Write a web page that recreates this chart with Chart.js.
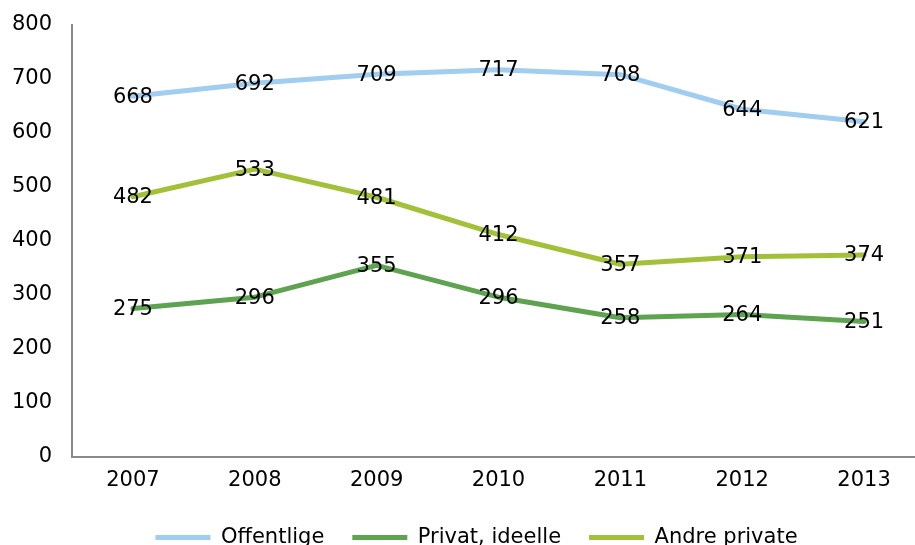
<!DOCTYPE html>
<html lang="no">
<head>
    <meta charset="UTF-8">
    <title>Offentlige og private</title>
    <script src="https://cdn.jsdelivr.net/npm/chart.js"></script>
    <style>
        body { margin: 0; background: #fff; overflow: hidden; }
        .chart-container { width: 925px; height: 558px; position: relative; }
    </style>
</head>
<body>
    <div class="chart-container">
        <canvas id="lineChart" width="925" height="558"></canvas>
    </div>
    <script>
        const years = ['2007', '2008', '2009', '2010', '2011', '2012', '2013'];
        const offentlige = [668, 692, 709, 717, 708, 644, 621];
        const privatIdeelle = [275, 296, 355, 296, 258, 264, 251];
        const andrePrivate = [482, 533, 481, 412, 357, 371, 374];
        const seriesNames = ['Offentlige', 'Privat, ideelle', 'Andre private'];
        const seriesColors = ['#a0cdf0', '#5da350', '#a2c139'];

        const fontFamily = '"DejaVu Sans", Verdana, sans-serif';
        const fontSize = 21;

        // draws the value on top of each point
        const valueLabels = {
            id: 'valueLabels',
            afterDatasetsDraw(chart) {
                const ctx = chart.ctx;
                ctx.save();
                ctx.font = fontSize + 'px ' + fontFamily;
                ctx.fillStyle = '#000';
                ctx.textAlign = 'center';
                ctx.textBaseline = 'middle';
                chart.data.datasets.forEach((ds, i) => {
                    const meta = chart.getDatasetMeta(i);
                    meta.data.forEach((pt, j) => {
                        ctx.fillText(ds.data[j], pt.x, pt.y + 1);
                    });
                });
                ctx.restore();
            }
        };

        // legend in the original sits a bit right of centre
        const legendShift = {
            id: 'legendShift',
            afterLayout(chart) {
                if (chart.legend) {
                    chart.legend.left += 14;
                    chart.legend.right += 14;
                }
            }
        };

        function makeDataset(label, data, color) {
            return {
                label: label,
                data: data,
                borderColor: color,
                backgroundColor: color,
                borderWidth: 5,
                pointRadius: 0,
                tension: 0,
                borderJoinStyle: 'round',
                borderCapStyle: 'round'
            };
        }

        const ctx = document.getElementById('lineChart').getContext('2d');
        new Chart(ctx, {
            type: 'line',
            data: {
                labels: years,
                datasets: [
                    makeDataset(seriesNames[0], offentlige, seriesColors[0]),
                    makeDataset(seriesNames[1], privatIdeelle, seriesColors[1]),
                    makeDataset(seriesNames[2], andrePrivate, seriesColors[2])
                ]
            },
            options: {
                responsive: false,
                animation: false,
                layout: { padding: { top: 25, left: 0, right: 0, bottom: 0 } },
                scales: {
                    x: {
                        offset: true,
                        grid: { display: false, drawTicks: false },
                        border: { display: true, color: '#898989', width: 2 },
                        ticks: { color: '#000', font: { family: fontFamily, size: fontSize }, padding: 11 },
                        afterFit(scale) { scale.height = 42; }
                    },
                    y: {
                        min: 0,
                        max: 800,
                        grid: { display: false, drawTicks: false },
                        border: { display: true, color: '#898989', width: 2 },
                        ticks: { stepSize: 100, color: '#000', font: { family: fontFamily, size: fontSize }, padding: 20 },
                        afterFit(scale) {
                            scale.width = 72;
                            scale.paddingTop = 0;
                            scale.paddingBottom = 0;
                        }
                    }
                },
                plugins: {
                    tooltip: { enabled: false },
                    legend: {
                        position: 'bottom',
                        labels: {
                            color: '#000',
                            font: { family: fontFamily, size: fontSize },
                            boxWidth: 55,
                            boxHeight: 5,
                            padding: 28,
                            useBorderRadius: true,
                            borderRadius: 2.5,
                            generateLabels(chart) {
                                return chart.data.datasets.map((ds, i) => ({
                                    text: ds.label,
                                    fillStyle: ds.borderColor,
                                    strokeStyle: ds.borderColor,
                                    lineWidth: 0,
                                    fontColor: '#000',
                                    datasetIndex: i
                                }));
                            }
                        }
                    }
                }
            },
            plugins: [valueLabels, legendShift]
        });
    </script>
</body>
</html>
